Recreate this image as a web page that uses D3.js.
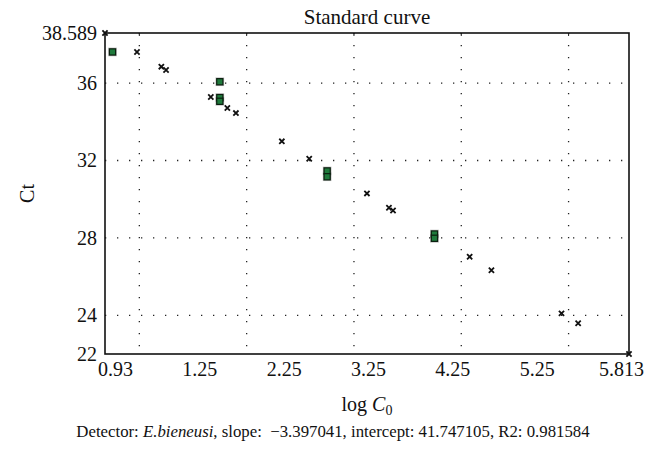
<!DOCTYPE html>
<html>
<head>
<meta charset="utf-8">
<script src="https://cdn.jsdelivr.net/npm/d3@7"></script>
<style>
  body { margin: 0; background: #fff; }
  svg text { font-family: "Liberation Serif", "DejaVu Serif", serif; fill: #111; }
</style>
</head>
<body>
<div id="chart"></div>
<script>
// standards (green squares)
const stdLogC0 = [1, 2, 2, 2, 3, 3, 4, 4]
const stdCt = [37.61, 36.07, 35.25, 35.06, 31.46, 31.16, 28.20, 27.98]

// unknowns (crosses)
const sampleLogC0 = [1.228, 1.455, 1.499, 1.916, 2.07, 2.15, 2.578, 2.833, 3.371, 3.576, 3.614, 4.328, 4.531, 5.184, 5.339]
const sampleCt = [37.61, 36.85, 36.68, 35.28, 34.71, 34.45, 32.99, 32.09, 30.30, 29.56, 29.42, 27.03, 26.33, 24.10, 23.59]

// range end markers
const cornerLogC0 = [0.93, 5.813]
const cornerCt = [38.589, 22]

const gridX = [1.25, 2.25, 3.25, 4.25, 5.25]
const gridY = [24, 28, 32, 36]
const xTickLabels = ["0.93", "1.25", "2.25", "3.25", "4.25", "5.25", "5.813"]
const yTicks = [22, 24, 28, 32, 36, 38.589]

const width = 666, height = 460
const margin = { top: 33, right: 37, bottom: 106, left: 105 }
const w = width - margin.left - margin.right,
      h = height - margin.top - margin.bottom

const svg = d3.select("#chart")
    .append("svg")
    .attr("width", width)
    .attr("height", height)

const g = svg.append("g")
    .attr("transform", "translate(" + margin.left + "," + margin.top + ")")

const x = d3.scaleLinear().domain([0.93, 5.813]).range([0, w])
const y = d3.scaleLinear().domain([22, 38.589]).range([h, 0])
// tick labels are spread evenly along the bottom edge
const xLab = d3.scalePoint().domain(xTickLabels).range([10, w - 8])

// dotted grid
g.selectAll(".gx")
    .data(gridX)
    .enter().append("line")
    .attr("x1", d => x(d)).attr("x2", d => x(d))
    .attr("y1", 0).attr("y2", h)
    .style("stroke", "#222")
    .style("stroke-width", 1.3)
    .style("stroke-dasharray", "1.3,10.7")

g.selectAll(".gy")
    .data(gridY)
    .enter().append("line")
    .attr("x1", 0).attr("x2", w)
    .attr("y1", d => y(d)).attr("y2", d => y(d))
    .style("stroke", "#222")
    .style("stroke-width", 1.3)
    .style("stroke-dasharray", "1.3,10.7")

// small ticks on the top edge
g.selectAll(".tt")
    .data(gridX)
    .enter().append("line")
    .attr("x1", d => x(d)).attr("x2", d => x(d))
    .attr("y1", 0).attr("y2", 3)
    .style("stroke", "#222")
    .style("stroke-width", 1)

// frame
g.append("rect")
    .attr("width", w)
    .attr("height", h)
    .style("fill", "none")
    .style("stroke", "#111")
    .style("stroke-width", 1.6)

// Y axis
const yAxis = g.append("g")
    .call(d3.axisLeft(y).tickValues(yTicks).tickSize(0).tickPadding(8)
        .tickFormat(d => d === 38.589 ? "38.589" : d3.format("d")(d)))
yAxis.select(".domain").remove()
yAxis.selectAll("text")
    .style("font-size", "20px")
    .style("font-family", "Liberation Serif")

// X axis labels
const xAxis = g.append("g")
    .attr("transform", "translate(0," + h + ")")
    .call(d3.axisBottom(xLab).tickSize(0).tickPadding(8))
xAxis.select(".domain").remove()
xAxis.selectAll("text")
    .style("font-size", "20px")
    .style("font-family", "Liberation Serif")

// crosses
function cross(sel, size) {
    sel.append("path")
        .attr("d", "M" + (-size) + "," + (-size) + "L" + size + "," + size +
            "M" + (-size) + "," + size + "L" + size + "," + (-size))
        .style("stroke", "#111")
        .style("stroke-width", 1.8)
        .style("fill", "none")
}

const samples = sampleLogC0.map((d, i) => ({ x: d, ct: sampleCt[i] }))
g.selectAll(".sample")
    .data(samples)
    .enter().append("g")
    .attr("transform", d => "translate(" + x(d.x) + "," + y(d.ct) + ")")
    .call(cross, 2.6)

const corners = cornerLogC0.map((d, i) => ({ x: d, ct: cornerCt[i] }))
g.selectAll(".corner")
    .data(corners)
    .enter().append("g")
    .attr("transform", d => "translate(" + x(d.x) + "," + y(d.ct) + ")")
    .call(cross, 2.6)

// standards
const stds = stdLogC0.map((d, i) => ({ x: d, ct: stdCt[i] }))
g.selectAll(".halo")
    .data(stds)
    .enter().append("rect")
    .attr("x", d => x(d.x) - 4.3)
    .attr("y", d => y(d.ct) - 4.3)
    .attr("width", 8.6)
    .attr("height", 8.6)
    .style("fill", "#999")
    .style("opacity", 0.7)

g.selectAll(".std")
    .data(stds)
    .enter().append("rect")
    .attr("x", d => x(d.x) - 3.1)
    .attr("y", d => y(d.ct) - 3.1)
    .attr("width", 6.2)
    .attr("height", 6.2)
    .style("fill", "#1f7a3c")
    .style("stroke", "#0b1f0f")
    .style("stroke-width", 1.2)

// title
g.append("text")
    .attr("x", w / 2)
    .attr("y", -9)
    .attr("text-anchor", "middle")
    .style("font-size", "21px")
    .text("Standard curve")

// y label
svg.append("text")
    .attr("transform", "translate(34," + (margin.top + h / 2) + ") rotate(-90)")
    .attr("text-anchor", "middle")
    .style("font-size", "20px")
    .text("Ct")

// x label
const xl = svg.append("text")
    .attr("x", margin.left + w / 2)
    .attr("y", 411)
    .attr("text-anchor", "middle")
    .style("font-size", "20px")
xl.append("tspan").text("log ")
xl.append("tspan").style("font-style", "italic").text("C")
xl.append("tspan").attr("dy", 4).style("font-size", "14px").text("0")

// caption
const cap = svg.append("text")
    .attr("x", width / 2)
    .attr("y", 437)
    .attr("text-anchor", "middle")
    .style("font-size", "16.8px")
cap.append("tspan").text("Detector: ")
cap.append("tspan").style("font-style", "italic").text("E.bieneusi")
cap.append("tspan").text(", slope:\u00a0 \u22123.397041, intercept: 41.747105, R2: 0.981584")
</script>
</body>
</html>
